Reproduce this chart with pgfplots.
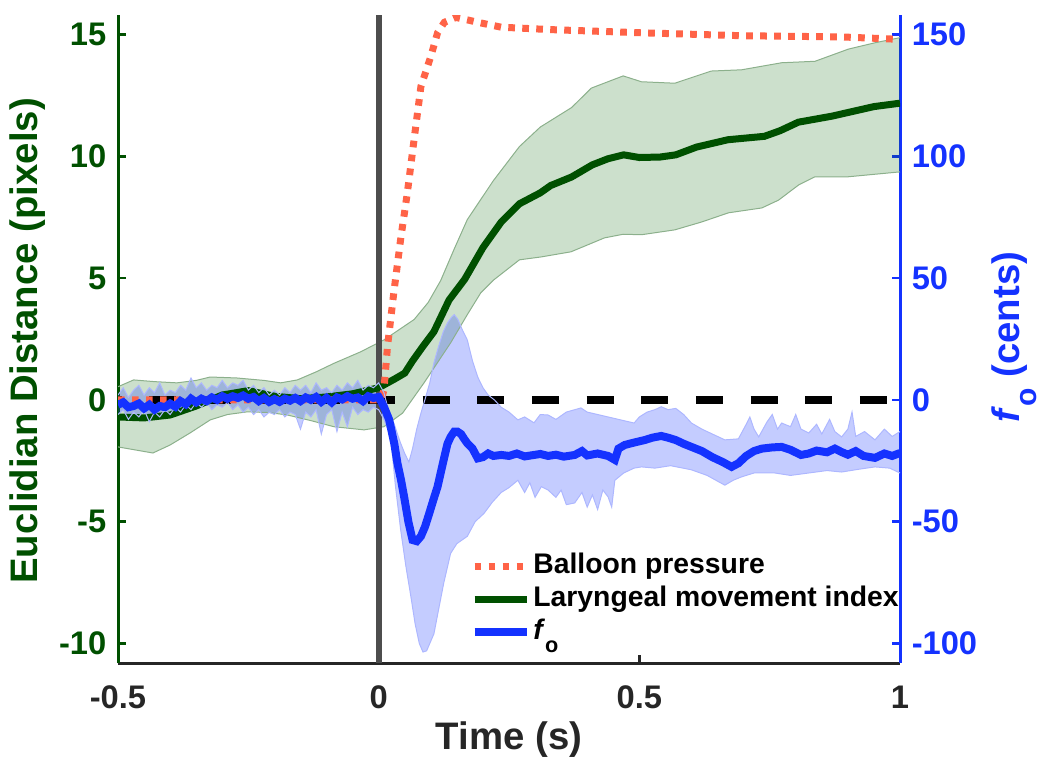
\documentclass[border=0pt]{standalone}
\usepackage{fontspec}
\setmainfont{Liberation Sans}
\usepackage{pgfplots}
\pgfplotsset{compat=1.18}
\usepgfplotslibrary{fillbetween}

\definecolor{lgreen}{RGB}{0,80,0}
\definecolor{fblue}{RGB}{20,50,255}
\definecolor{bred}{RGB}{255,99,71}
\definecolor{vgray}{RGB}{77,77,77}

\newcommand\fo[1]{\textit{f}\raisebox{-0.45em}{\fontsize{#1}{#1}\selectfont o}}

% laryngeal movement index (pixels)
\pgfplotstableread{
t y
-0.5 -0.70
-0.45 -0.74
-0.40 -0.62
-0.35 -0.25
-0.30 0.20
-0.25 0.38
-0.20 0.15
-0.15 0.05
-0.10 0.12
-0.05 0.25
0.00 0.50
0.03 0.85
0.05 1.10
0.065 1.60
0.085 2.20
0.106 2.80
0.135 4.10
0.165 4.95
0.20 6.25
0.235 7.30
0.27 8.05
0.31 8.50
0.33 8.80
0.37 9.15
0.41 9.65
0.44 9.90
0.47 10.06
0.50 9.95
0.54 9.97
0.57 10.06
0.61 10.38
0.67 10.68
0.74 10.82
0.77 11.05
0.805 11.40
0.87 11.65
0.95 12.04
1.00 12.18
}\lmi
\pgfplotstableread{
t y
-0.5 0.54
-0.47 0.82
-0.43 0.75
-0.387 0.70
-0.35 0.80
-0.323 0.94
-0.272 0.90
-0.22 0.80
-0.188 0.70
-0.156 0.82
-0.12 1.15
-0.086 1.50
-0.035 1.97
0.01 2.46
0.068 3.30
0.095 4.00
0.119 4.90
0.145 6.20
0.17 7.40
0.22 9.00
0.27 10.40
0.31 11.20
0.37 12.00
0.408 12.80
0.469 13.30
0.504 13.06
0.568 13.00
0.638 13.50
0.696 13.55
0.773 13.84
0.837 13.90
0.901 14.40
0.952 14.66
1.00 14.87
}\lmiup
\pgfplotstableread{
t y
-0.5 -1.93
-0.433 -2.18
-0.40 -1.85
-0.362 -1.36
-0.323 -0.82
-0.29 -0.60
-0.252 -0.49
-0.21 -0.52
-0.175 -0.62
-0.13 -0.85
-0.086 -1.10
-0.028 -1.23
0.01 -1.10
0.046 -0.54
0.087 0.70
0.138 2.34
0.17 3.50
0.196 4.40
0.221 4.93
0.27 5.75
0.312 5.87
0.369 6.08
0.433 6.65
0.469 6.80
0.504 6.78
0.568 6.98
0.619 7.30
0.671 7.68
0.735 7.88
0.767 8.20
0.806 8.83
0.837 9.16
0.901 9.16
1.00 9.36
}\lmilo
% balloon pressure
\pgfplotstableread{
t y
-0.5 0
0.005 0
0.01 0.40
0.017 2.20
0.029 4.40
0.042 6.57
0.055 8.50
0.068 10.70
0.081 12.86
0.10 14.10
0.113 15.07
0.126 15.50
0.148 15.70
0.17 15.60
0.19 15.50
0.235 15.30
0.33 15.20
0.504 15.07
0.696 14.95
0.888 14.90
1.00 14.80
}\balloon
% fo (cents)
\pgfplotstableread{
t y
-0.50 -2
-0.49 -1
-0.48 -3
-0.47 -2.5
-0.46 -1.5
-0.45 -3.5
-0.44 -2
-0.43 -4
-0.42 -2.5
-0.41 -3
-0.40 -1.5
-0.39 -2.8
-0.38 -0.5
-0.37 -1.8
-0.36 0.5
-0.35 -1
-0.34 0.5
-0.33 -0.5
-0.32 1
-0.31 0
-0.30 1.5
-0.29 0.5
-0.28 1.5
-0.27 0.8
-0.26 1.8
-0.25 0.5
-0.24 1.2
-0.23 -0.5
-0.22 0.8
-0.21 -0.8
-0.20 0.3
-0.19 -0.8
-0.18 0.5
-0.17 -0.3
-0.16 0.8
-0.15 -0.5
-0.14 1
-0.13 0
-0.12 1.2
-0.11 -0.8
-0.10 0.8
-0.09 -1
-0.08 1
-0.07 0.2
-0.06 1.5
-0.05 0.5
-0.04 1
-0.03 -0.5
-0.02 1.5
-0.01 0.8
0.00 1.2
0.01 -2.8
0.02 -8
0.03 -18
0.036 -26
0.043 -33
0.049 -40
0.057 -50
0.065 -57.5
0.073 -58
0.081 -56
0.089 -52
0.097 -46.6
0.105 -41
0.113 -35.6
0.12 -29
0.126 -23.4
0.132 -18
0.138 -15.2
0.145 -13
0.151 -13
0.158 -14
0.164 -16
0.17 -17.8
0.18 -20
0.19 -24
0.20 -23.5
0.21 -22
0.22 -23
0.235 -22.6
0.25 -23
0.265 -22
0.28 -23.2
0.298 -22.6
0.31 -22.2
0.325 -23
0.34 -22.5
0.355 -23.3
0.376 -22.6
0.39 -21
0.40 -22.8
0.42 -22
0.44 -23
0.453 -24.6
0.46 -20
0.472 -18.5
0.49 -17.5
0.51 -16.5
0.525 -15.5
0.542 -14.8
0.555 -15.5
0.57 -16.5
0.585 -18
0.60 -19.3
0.62 -21
0.64 -23.5
0.66 -25.5
0.677 -27.5
0.69 -26
0.705 -23
0.72 -21
0.735 -20
0.755 -19.5
0.773 -19.3
0.79 -20.5
0.81 -22.6
0.825 -22
0.84 -20.8
0.86 -21.5
0.875 -20
0.888 -21.4
0.90 -22.5
0.915 -21
0.93 -23
0.952 -23.8
0.97 -22
0.985 -23
1.00 -21.8
}\fzero
\pgfplotstableread{
t y
-0.50 2
-0.49 5
-0.48 1
-0.47 4
-0.46 6
-0.45 2
-0.44 5
-0.43 3
-0.42 7
-0.41 2
-0.40 4
-0.39 3
-0.38 6
-0.37 4
-0.36 9
-0.35 5
-0.34 7
-0.33 4
-0.32 6
-0.31 5
-0.30 8
-0.29 5
-0.28 7
-0.27 6
-0.26 8
-0.25 4
-0.24 6
-0.23 3
-0.22 5
-0.21 2
-0.20 4
-0.19 2
-0.18 5
-0.17 3
-0.16 6
-0.15 4
-0.14 6
-0.13 3
-0.12 7
-0.11 4
-0.10 5
-0.09 3
-0.08 6
-0.07 4
-0.06 7
-0.05 5
-0.04 8
-0.03 4
-0.02 6
-0.01 5
0.00 7
0.01 3
0.02 -5
0.03 -10
0.036 -14
0.042 -17.7
0.05 -22
0.058 -25.5
0.065 -20
0.073 -12
0.081 -5.5
0.09 1
0.098 7
0.106 15.2
0.115 22
0.124 28
0.132 31.6
0.14 34
0.145 35
0.152 33
0.16 29
0.17 24.6
0.18 16
0.19 9.4
0.20 5
0.21 2
0.222 0
0.235 -3
0.25 -5
0.267 -8.2
0.28 -7
0.298 -9.4
0.31 -6
0.325 -6.2
0.34 -8
0.36 -5
0.388 -3.3
0.40 -5
0.42 -6
0.44 -7
0.46 -8
0.49 -9.5
0.50 -7
0.515 -5
0.53 -4
0.542 -2.8
0.555 -4
0.57 -3.5
0.585 -6
0.60 -9.5
0.62 -12
0.64 -14
0.664 -16.4
0.69 -16
0.705 -10
0.712 -7
0.72 -12
0.729 -15.2
0.745 -9
0.755 -6
0.765 -12
0.773 -9.5
0.79 -11
0.80 -6
0.81 -12
0.825 -13.6
0.84 -10
0.85 -14
0.865 -8
0.875 -13
0.888 -15.2
0.90 -12
0.908 -5
0.915 -15
0.932 -13
0.952 -16.4
0.97 -12
0.985 -15
1.00 -13
}\fzeroup
\pgfplotstableread{
t y
-0.50 -6
-0.49 -4
-0.48 -8
-0.47 -5
-0.46 -7
-0.45 -4
-0.44 -9
-0.43 -5
-0.42 -7
-0.41 -4
-0.40 -6
-0.39 -3
-0.38 -5
-0.37 -2
-0.36 -4
-0.35 -1
-0.34 -3
-0.33 -1
-0.32 -4
-0.31 -2
-0.30 -3
-0.29 -1
-0.28 -4
-0.27 -2
-0.26 -5
-0.25 -3
-0.24 -6
-0.23 -4
-0.22 -7
-0.21 -5
-0.20 -6
-0.19 -4
-0.18 -7
-0.17 -5
-0.16 -6
-0.15 -12
-0.14 -5
-0.13 -7
-0.12 -4
-0.11 -14
-0.10 -6
-0.09 -4
-0.08 -13
-0.07 -5
-0.06 -11
-0.05 -3
-0.04 -6
-0.03 -4
-0.02 -5
-0.01 -3
0.00 -4
0.01 -8
0.023 -15
0.032 -35
0.042 -53
0.052 -68
0.062 -81
0.07 -92
0.078 -100
0.085 -103.5
0.092 -103
0.10 -99
0.106 -96
0.115 -86
0.125 -75
0.138 -63
0.15 -59
0.17 -56
0.185 -50
0.202 -46.6
0.218 -42
0.235 -38
0.25 -36
0.267 -33
0.28 -38
0.29 -34
0.30 -40
0.312 -35.6
0.325 -37
0.34 -40
0.35 -37
0.36 -43
0.376 -42.3
0.39 -38
0.40 -44
0.41 -39
0.42 -45
0.43 -37
0.44 -39.8
0.447 -44
0.453 -33
0.47 -30
0.49 -28
0.504 -27.5
0.53 -28
0.56 -27
0.60 -28.7
0.63 -31
0.664 -35
0.68 -33
0.696 -31.6
0.72 -30
0.76 -30
0.79 -31
0.825 -30
0.86 -29
0.888 -29.6
0.92 -28.5
0.952 -27.5
0.98 -28
1.00 -30
}\fzerolo

\pgfplotsset{
  common/.style={
    scale only axis,
    width=234.6pt, height=194.4pt,
    xmin=-0.5, xmax=1,
    tick align=inside,
    major tick length=2.5pt,
    axis line style={-, line width=0.9pt},
    every tick/.style={line width=0.8pt},
    tick label style={font=\fontsize{9.8}{10}\selectfont\bfseries},
  },
}

\begin{document}
\begin{tikzpicture}
\begin{axis}[
  common,
  axis y line*=left,
  axis x line*=bottom,
  ymin=-10.8, ymax=15.8,
  ytick={-10,-5,0,5,10,15},
  yticklabels={-10,-5,0,5,10,15},
  xtick={-0.5,0,0.5,1},
  xticklabels={-0.5,0,0.5,1},
  xticklabel style={yshift=-3.3pt},
  y axis line style={color=lgreen},
  x axis line style={color=black!85},
  ytick style={color=lgreen},
  xtick style={color=black!85},
  yticklabel style={text=lgreen},
  xticklabel style={text=black!85},
  xlabel={Time (s)},
  ylabel={Euclidian Distance (pixels)},
  every axis x label/.style={at={(axis description cs:0.5,-0.134)}, anchor=base,
    text=black!85, font=\fontsize{11.5}{12}\selectfont\bfseries},
  every axis y label/.style={at={(axis description cs:-0.115,0.497)}, anchor=center,
    rotate=90, text=lgreen, font=\fontsize{11.5}{12}\selectfont\bfseries},
]
\addplot[name path=gup, draw=lgreen!45, line width=0.3pt] table[x=t,y=y] {\lmiup};
\addplot[name path=glo, draw=lgreen!45, line width=0.3pt] table[x=t,y=y] {\lmilo};
\addplot[fill={rgb,255:red,0;green,100;blue,0}, fill opacity=0.2, draw=none] fill between[of=gup and glo];
\addplot[vgray, line width=1.8pt] coordinates {(0,-10.8) (0,15.8)};
\addplot[black, line width=2.2pt, dash pattern=on 8.1pt off 8.3pt, dash phase=7.05pt] coordinates {(-0.5,0) (1,0)};
\addplot[lgreen, line width=2.1pt] table[x=t,y=y] {\lmi};
\addplot[bred, line width=2.1pt, dash pattern=on 2pt off 2.2pt] table[x=t,y=y] {\balloon};
\end{axis}

\begin{axis}[
  common,
  axis y line*=right,
  axis x line=none,
  xtick=\empty,
  ymin=-108, ymax=158,
  ytick={-100,-50,0,50,100,150},
  yticklabels={-100,-50,0,50,100,150},
  y axis line style={color=fblue},
  ytick style={color=fblue},
  yticklabel style={text=fblue},
  ylabel={\fo{9pt} (cents)},
  every axis y label/.style={at={(axis description cs:1.146,0.503)}, anchor=center,
    rotate=90, text=fblue, font=\fontsize{11.5}{12}\selectfont\bfseries},
  legend image code/.code={\draw[#1] (0cm,0cm) -- (0.55cm,0cm);},
  legend cell align=left,
  legend style={draw=none, fill=none, inner sep=0pt,
    at={(axis description cs:0.45,0.176)}, anchor=north west,
    font=\fontsize{8.5}{9}\selectfont\bfseries,
    nodes={inner sep=0.8pt, text height=6.3pt, text depth=2pt},
    /tikz/every even column/.append style={column sep=1pt}},
]
\addplot[name path=bup, draw=fblue!35, line width=0.3pt, forget plot] table[x=t,y=y] {\fzeroup};
\addplot[name path=blo, draw=fblue!35, line width=0.3pt, forget plot] table[x=t,y=y] {\fzerolo};
\addplot[fill=fblue, fill opacity=0.25, draw=none, forget plot] fill between[of=bup and blo];
\addplot[fblue, line width=2.4pt, forget plot] table[x=t,y=y] {\fzero};
\addlegendimage{bred, line width=2.1pt, dash pattern=on 2pt off 2.2pt}
\addlegendentry{Balloon pressure}
\addlegendimage{lgreen, line width=2.1pt}
\addlegendentry{Laryngeal movement index}
\addlegendimage{fblue, line width=2.4pt}
\addlegendentry{\fo{6.5pt}}
\end{axis}
\pgfresetboundingbox
\path (-35.4pt,-28.8pt) rectangle (278.1pt,198.9pt);
\end{tikzpicture}
\end{document}
